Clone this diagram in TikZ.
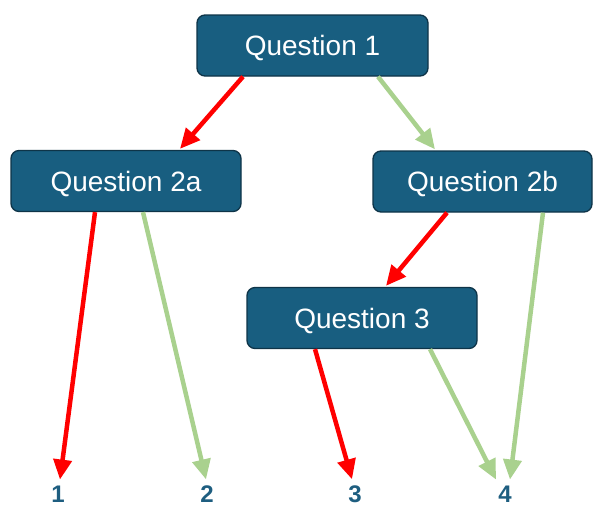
\documentclass[tikz,border=0pt]{standalone}
\usepackage{fontspec}
\setmainfont{Liberation Sans}
\usetikzlibrary{arrows.meta,calc}
\definecolor{boxfill}{RGB}{24,94,128}
\definecolor{boxline}{RGB}{14,52,72}
\definecolor{arrred}{RGB}{255,0,0}
\definecolor{arrgreen}{RGB}{169,209,142}
\definecolor{lblcol}{RGB}{30,94,128}
\begin{document}
\begin{tikzpicture}[x=1pt,y=-1pt,
  qbox/.style={draw=boxline,line width=1.3pt,fill=boxfill,rounded corners=8pt,
    minimum height=61pt,inner sep=0pt,text height=20pt,text depth=0pt,text=white,font=\fontsize{28}{32}\selectfont},
  lbl/.style={inner sep=0pt,text=lblcol,font=\fontsize{24}{28}\selectfont\bfseries},
  redarr/.style={draw=arrred,line width=4.5pt,-{Triangle[length=20pt,width=18pt]}},
  greenarr/.style={draw=arrgreen,line width=4.5pt,-{Triangle[length=20pt,width=18pt]}}]
\useasboundingbox (0,0) rectangle (597,507);
\node[qbox,minimum width=231pt] (q1) at (312.5,45.5) {Question 1};
\node[qbox,minimum width=230pt] (q2a) at (126,181) {Question 2a};
\node[qbox,minimum width=219pt] (q2b) at (482.5,181.5) {Question 2b};
\node[qbox,minimum width=230pt] (q3) at (362,318) {Question 3};
\node[lbl] (l1) at (58,494) {1};
\node[lbl] (l2) at (207,494) {2};
\node[lbl] (l3) at (355,494) {3};
\node[lbl] (l4) at (505,494) {4};
\draw[redarr] ([xshift=-69.5pt]q1.south) -- ([xshift=54pt,yshift=1pt]q2a.north);
\draw[greenarr] ([xshift=65.5pt]q1.south) -- ([xshift=-47.5pt,yshift=1pt]q2b.north);
\draw[redarr] ([xshift=-31pt]q2a.south) -- ([xshift=2pt,yshift=6pt]l1.north);
\draw[greenarr] ([xshift=17pt]q2a.south) -- ([xshift=-1pt,yshift=6pt]l2.north);
\draw[redarr] ([xshift=-35.5pt]q2b.south) -- ([xshift=24pt,yshift=1pt]q3.north);
\draw[greenarr] ([xshift=60.5pt]q2b.south) -- ([xshift=5pt,yshift=6pt]l4.north);
\draw[redarr] ([xshift=-47pt]q3.south) -- ([xshift=-3pt,yshift=6pt]l3.north);
\draw[greenarr] ([xshift=68pt]q3.south) -- ([xshift=-9pt,yshift=6pt]l4.north);
\end{tikzpicture}
\end{document}
